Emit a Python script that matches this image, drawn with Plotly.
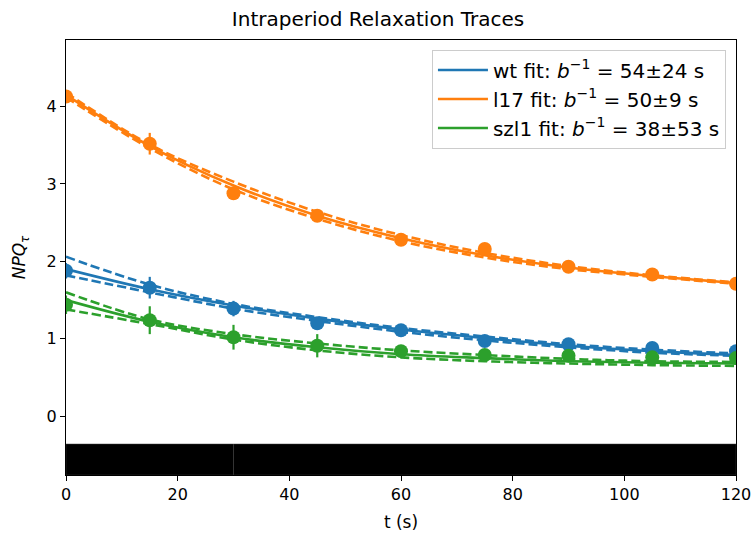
import plotly.graph_objects as go

t = [0, 15, 30, 45, 60, 75, 90, 105, 120]

names = ["wt", "l17", "szl1"]
labels = ["wt fit: <i>b</i><sup>−1</sup> = 54±24 s",
          "l17 fit: <i>b</i><sup>−1</sup> = 50±9 s",
          "szl1 fit: <i>b</i><sup>−1</sup> = 38±53 s"]
colors = ["#1f77b4", "#ff7f0e", "#2ca02c"]

wt_y = [1.88, 1.66, 1.39, 1.20, 1.11, 0.97, 0.93, 0.88, 0.84]
wt_err = [0.10, 0.14, 0.10, 0.07, 0.05, 0.05, 0.05, 0.04, 0.04]
l17_y = [4.13, 3.52, 2.88, 2.59, 2.28, 2.16, 1.93, 1.83, 1.71]
l17_err = [0.08, 0.14, 0.06, 0.05, 0.05, 0.05, 0.04, 0.04, 0.04]
szl1_y = [1.44, 1.24, 1.02, 0.91, 0.84, 0.79, 0.78, 0.76, 0.75]
szl1_err = [0.12, 0.18, 0.16, 0.15, 0.08, 0.06, 0.05, 0.05, 0.05]

wt_fit = [1.90, 1.64, 1.43, 1.26, 1.12, 1.01, 0.91, 0.84, 0.79]
wt_hi = [2.06, 1.70, 1.45, 1.28, 1.14, 1.03, 0.93, 0.86, 0.81]
wt_lo = [1.82, 1.60, 1.39, 1.23, 1.09, 0.98, 0.89, 0.82, 0.78]
l17_fit = [4.15, 3.49, 2.98, 2.59, 2.30, 2.08, 1.92, 1.81, 1.72]
l17_hi = [4.18, 3.51, 3.03, 2.64, 2.34, 2.11, 1.94, 1.82, 1.73]
l17_lo = [4.12, 3.46, 2.93, 2.55, 2.26, 2.05, 1.90, 1.80, 1.71]
szl1_fit = [1.50, 1.22, 1.02, 0.89, 0.80, 0.75, 0.71, 0.69, 0.68]
szl1_hi = [1.60, 1.25, 1.06, 0.94, 0.85, 0.79, 0.74, 0.71, 0.70]
szl1_lo = [1.38, 1.19, 0.99, 0.85, 0.76, 0.71, 0.68, 0.66, 0.65]

light_start = [0, 30]
light_end = [30, 120]
bar_bottom = -0.76
bar_top = -0.36

data = {
    "wt": (wt_y, wt_err, wt_fit, wt_hi, wt_lo),
    "l17": (l17_y, l17_err, l17_fit, l17_hi, l17_lo),
    "szl1": (szl1_y, szl1_err, szl1_fit, szl1_hi, szl1_lo),
}

fig = go.Figure()

for name, label, col in zip(names, labels, colors):
    y, err, fit, hi, lo = data[name]
    for band in (hi, lo):
        fig.add_trace(go.Scatter(x=t, y=band, mode="lines", showlegend=False,
                                 legendgroup=name,
                                 line=dict(color=col, width=2.6, dash="9px,4px", shape="spline"),
                                 hoverinfo="skip"))
    fig.add_trace(go.Scatter(x=t, y=fit, mode="lines", name=label, legendgroup=name,
                             line=dict(color=col, width=2.6, shape="spline")))
    fig.add_trace(go.Scatter(x=t, y=y, mode="markers", showlegend=False,
                             legendgroup=name,
                             marker=dict(color=col, size=14),
                             error_y=dict(type="data", array=err, color=col,
                                          thickness=2.2, width=0)))

for s, e in zip(light_start, light_end):
    fig.add_shape(type="rect", xref="x", yref="y", x0=s, x1=e,
                  y0=bar_bottom, y1=bar_top, fillcolor="black",
                  line=dict(color="#3a3a3a", width=0.5), layer="above")

fig.update_layout(
    width=756, height=538,
    margin=dict(l=66, r=20, t=40, b=63, autoexpand=False),
    paper_bgcolor="white", plot_bgcolor="white",
    font=dict(family="DejaVu Sans", size=16, color="black"),
    title=dict(text="Intraperiod Relaxation Traces", x=0.5, xanchor="center",
               y=1 - 19 / 538, yanchor="middle", font=dict(size=20)),
    showlegend=True,
    legend=dict(x=0.985, y=0.978, xanchor="right", yanchor="top",
                bgcolor="rgba(255,255,255,0.8)", bordercolor="#cccccc",
                borderwidth=1, font=dict(size=20), itemwidth=50,
                tracegroupgap=0),
    xaxis=dict(range=[0, 120], tickvals=[0, 20, 40, 60, 80, 100, 120],
               ticks="outside", ticklen=5, tickwidth=1, tickcolor="black",
               showline=True, linecolor="black", linewidth=1, mirror=True,
               showgrid=False, zeroline=False, automargin=False,
               title=dict(text="t (s)", standoff=12, font=dict(size=17))),
    yaxis=dict(range=[-0.76, 4.86], tickvals=[0, 1, 2, 3, 4],
               ticks="outside", ticklen=5, tickwidth=1, tickcolor="black",
               showline=True, linecolor="black", linewidth=1, mirror=True,
               showgrid=False, zeroline=False, automargin=False,
               title=dict(text="<i>NPQ<sub>τ</sub></i>", standoff=16, font=dict(size=17))),
)

fig.write_html("out.html")
